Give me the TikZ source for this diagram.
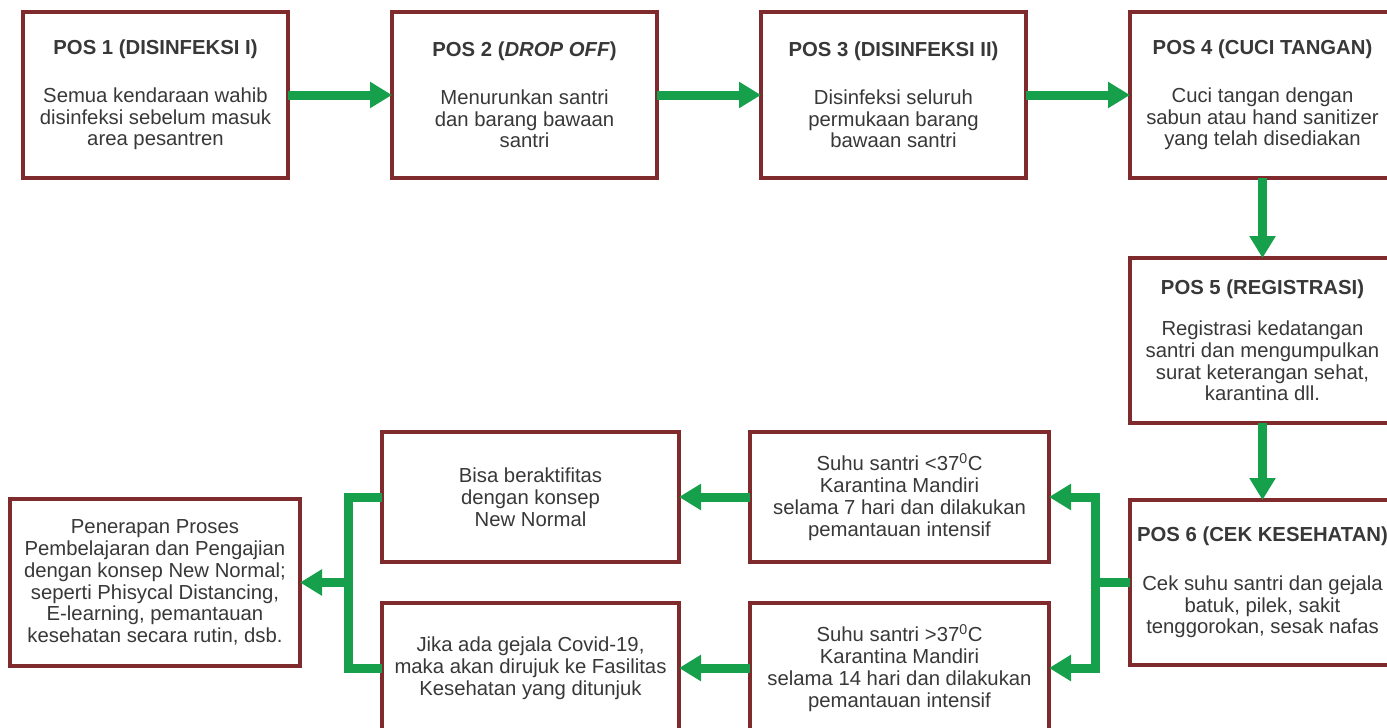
\documentclass[tikz,border=0pt]{standalone}
\usepackage{fontspec}
\setmainfont{Liberation Sans}
\usetikzlibrary{arrows.meta,positioning,calc}
\definecolor{boxred}{HTML}{7F2A2D}
\definecolor{flowgreen}{HTML}{17A04B}
\definecolor{txtc}{HTML}{383838}
\tikzset{
  posbox/.style={draw=boxred, line width=4pt, fill=white, minimum width=265pt, minimum height=166pt, inner sep=0pt, outer sep=0pt, align=center, text=txtc, font=\fontsize{20.3}{21.8}\selectfont},
  infobox/.style={posbox, minimum width=299pt, minimum height=130pt},
  arr/.style={-{Triangle[length=22pt,width=25pt]}, line width=9pt, draw=flowgreen},
  link/.style={line width=9pt, draw=flowgreen},
}

\begin{document}
\begin{tikzpicture}
  \useasboundingbox (0,0) rectangle (1387pt,-728pt);
  % top row
  \node[posbox] (p1) at (155.5pt,-95pt) {\textbf{POS 1 (DISINFEKSI I)}\\[26pt]Semua kendaraan wahib\\disinfeksi sebelum masuk\\area pesantren};
  \node[posbox, right=104pt of p1] (p2) {\textbf{POS 2 (\textit{DROP OFF})}\\[26pt]Menurunkan santri\\dan barang bawaan\\santri};
  \node[posbox, right=104pt of p2] (p3) {\textbf{POS 3 (DISINFEKSI II)}\\[26pt]Disinfeksi seluruh\\permukaan barang\\bawaan santri};
  \node[posbox, right=104pt of p3] (p4) {\textbf{POS 4 (CUCI TANGAN)}\\[26pt]Cuci tangan dengan\\sabun atau hand sanitizer\\yang telah disediakan};
  % right column
  \node[posbox, below=80pt of p4, minimum height=165pt] (p5) {\textbf{POS 5 (REGISTRASI)}\\[19pt]Registrasi kedatangan\\santri dan mengumpulkan\\surat keterangan sehat,\\karantina dll.};
  \node[posbox, below=77pt of p5, minimum height=165pt] (p6) {\textbf{POS 6 (CEK KESEHATAN)}\\[27pt]Cek suhu santri dan gejala\\batuk, pilek, sakit\\tenggorokan, sesak nafas};
  % temperature outcomes
  \node[infobox, anchor=east] (low) at ([xshift=-81pt,yshift=85.5pt]p6.west) {Suhu santri <37\textsuperscript{0}C\\Karantina Mandiri\\selama 7 hari dan dilakukan\\pemantauan intensif};
  \node[infobox, anchor=east] (high) at ([xshift=-81pt,yshift=-85.5pt]p6.west) {Suhu santri >37\textsuperscript{0}C\\Karantina Mandiri\\selama 14 hari dan dilakukan\\pemantauan intensif};
  \node[infobox, minimum width=297pt, left=71pt of low] (ok) {Bisa beraktifitas\\dengan konsep\\New Normal};
  \node[infobox, minimum width=297pt, left=71pt of high] (refer) {Jika ada gejala Covid-19,\\maka akan dirujuk ke Fasilitas\\Kesehatan yang ditunjuk};
  \coordinate (merge) at ($(ok.west)!0.5!(refer.west)+(-34pt,0)$);
  \node[posbox, minimum width=290pt, minimum height=167pt, left=48pt of merge] (newnormal) {Penerapan Proses\\Pembelajaran dan Pengajian\\dengan konsep New Normal;\\seperti Phisycal Distancing,\\E-learning, pemantauan\\kesehatan secara rutin, dsb.};
  % connectors
  \foreach \a/\b in {p1/p2,p2/p3,p3/p4,p4/p5,p5/p6,low/ok,high/refer}
    \draw[arr] (\a) -- (\b);
  \draw[link] (p6.west) -- ++(-35pt,0) coordinate (split);
  \draw[arr] (split) |- (low.east);
  \draw[arr] (split) |- (high.east);
  \draw[link] (ok.west) -| (merge) |- (refer.west);
  \draw[arr] (merge) -- (newnormal);
\end{tikzpicture}
\end{document}
